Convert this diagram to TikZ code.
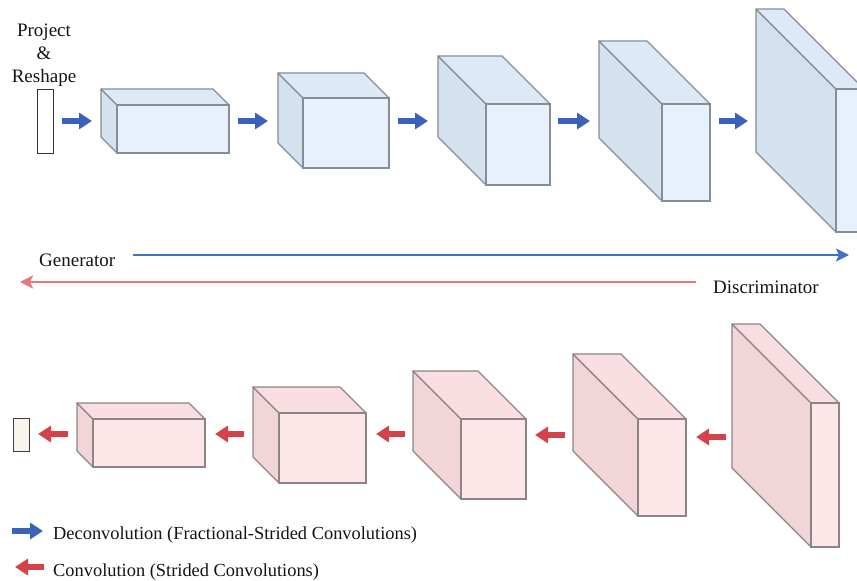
\documentclass[tikz,border=0pt]{standalone}
\usepackage{fontspec}
\setmainfont{Liberation Serif}
\usetikzlibrary{arrows.meta}
\definecolor{cBfront}{HTML}{E6F1FC}
\definecolor{cBtop}{HTML}{DDE9F7}
\definecolor{cBside}{HTML}{D4E1EF}
\definecolor{cBedge}{HTML}{878D94}
\definecolor{cRfront}{HTML}{FDE6E8}
\definecolor{cRtop}{HTML}{F8DEE0}
\definecolor{cRside}{HTML}{F1D5D7}
\definecolor{cRedge}{HTML}{8E8485}
\definecolor{cBlueArr}{HTML}{3A62B8}
\definecolor{cRedArr}{HTML}{D5434A}
\definecolor{cBlueLine}{HTML}{4470C4}
\definecolor{cRedLine}{HTML}{E6777D}
\definecolor{cText}{HTML}{141414}
\tikzset{
  bface/.style={draw=cBedge, fill=cBfront, line width=1.1pt, inner sep=0pt, outer sep=0pt},
  btopf/.style={draw=cBedge, fill=cBtop, line width=1.1pt, line join=round},
  bsidef/.style={draw=cBedge, fill=cBside, line width=1.1pt, line join=round},
  rface/.style={draw=cRedge, fill=cRfront, line width=1.1pt, inner sep=0pt, outer sep=0pt},
  rtopf/.style={draw=cRedge, fill=cRtop, line width=1.1pt, line join=round},
  rsidef/.style={draw=cRedge, fill=cRside, line width=1.1pt, line join=round},
  bluearr/.style={draw=cBlueArr, line width=5.5pt, -{Triangle[width=16pt,length=13pt]}},
  redarr/.style={draw=cRedArr, line width=5.5pt, -{Triangle[width=16pt,length=13pt]}},
  lbl/.style={text=cText, font=\fontsize{19}{22}\selectfont, inner sep=0pt, anchor=base west},
  leg/.style={text=cText, font=\fontsize{18.4}{22}\selectfont, inner sep=0pt, anchor=base west},
}
% #1 name, #2 x, #3 y (front top-left), #4 w, #5 h, #6 depth, #7 b or r
\newcommand{\mycuboid}[7]{%
  \path[#7sidef] (#2,#3) -- ({#2-#6},{#3-#6}) -- ({#2-#6},{#3+#5-#6}) -- (#2,{#3+#5}) -- cycle;
  \path[#7topf] (#2,#3) -- ({#2-#6},{#3-#6}) -- ({#2+#4-#6},{#3-#6}) -- ({#2+#4},#3) -- cycle;
  \node[#7face, minimum width=#4pt, minimum height=#5pt, anchor=north west] (#1) at (#2,#3) {};
}
\begin{document}
\begin{tikzpicture}[x=1pt,y=-1pt]
\useasboundingbox[fill=white] (0,0) rectangle (857,581);
\clip (0,0) rectangle (857,581);

% Project & Reshape
\node[lbl, anchor=base] (proj) at (44,36) {Project};
\node[lbl, anchor=base] (amp) at (44,59) {\&};
\node[lbl, anchor=base] (resh) at (44,82) {Reshape};
\node[draw=black!80, fill=white, line width=1.3pt, minimum width=16pt, minimum height=64pt, inner sep=0pt, anchor=north west] (z) at (37,89) {};

% generator cuboids
\mycuboid{t1}{117}{105}{112}{48}{16}{b}
\mycuboid{t2}{303}{98}{86}{70}{25}{b}
\mycuboid{t3}{486}{104}{64}{81}{48}{b}
\mycuboid{t4}{662}{104}{48}{97}{63}{b}
\mycuboid{t5}{836}{89}{28}{143}{80}{b}

% generator arrows
\foreach \n/\a/\b in {1/62/92, 2/238/268, 3/398/428, 4/558/590, 5/719/748}{
  \coordinate (ga\n) at (\a,121);
  \coordinate (gb\n) at (\b,121);
  \draw[bluearr] (ga\n) -- (gb\n);
}

% direction lines
\node[lbl] (gen) at (39,266) {Generator};
\coordinate (gs) at (133,255);
\coordinate (ge) at (849,255);
\draw[cBlueLine, line width=2pt, -{Stealth[length=13pt,width=13pt,inset=3pt]}] (gs) -- (ge);
\node[lbl] (disc) at (713,293) {Discriminator};
\coordinate (ds) at (696,282);
\coordinate (de) at (20,282);
\draw[cRedLine, line width=2.2pt, -{Stealth[length=13pt,width=13pt,inset=3pt]}] (ds) -- (de);

% discriminator cuboids
\node[draw=black!75, fill={rgb,255:red,248;green,246;blue,236}, line width=1.3pt, minimum width=16pt, minimum height=33pt, inner sep=0pt, anchor=north west] (out) at (13,418) {};
\mycuboid{b1}{93}{419}{112}{48}{16}{r}
\mycuboid{b2}{279}{413}{87}{70}{26}{r}
\mycuboid{b3}{461}{419}{65}{80}{48}{r}
\mycuboid{b4}{638}{419}{48}{97}{65}{r}
\mycuboid{b5}{811}{403}{28}{144}{79}{r}

% discriminator arrows
\foreach \n/\a/\b/\y in {1/68/38/434, 2/244/215/434, 3/405/376/434, 4/565/535/435, 5/726/696/437}{
  \coordinate (da\n) at (\a,\y);
  \coordinate (db\n) at (\b,\y);
  \draw[redarr] (da\n) -- (db\n);
}

% legend
\coordinate (l1a) at (12,531);
\coordinate (l1b) at (43,531);
\draw[bluearr] (l1a) -- (l1b);
\node[leg] (leg1) at (53,539) {Deconvolution (Fractional-Strided Convolutions)};
\coordinate (l2a) at (44,567);
\coordinate (l2b) at (15,567);
\draw[redarr] (l2a) -- (l2b);
\node[leg] (leg2) at (53,576) {Convolution (Strided Convolutions)};
\end{tikzpicture}
\end{document}
